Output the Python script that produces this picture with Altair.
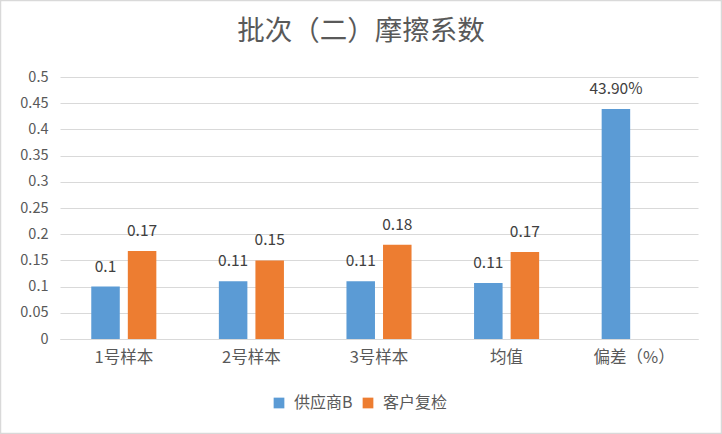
import altair as alt
import pandas as pd

title_text = "批次（二）摩擦系数"
categories = ["1号样本", "2号样本", "3号样本", "均值", "偏差（%）"]
series_names = ["供应商B", "客户复检"]
supplier_values = [0.10, 0.11, 0.11, 0.107, 0.439]
customer_values = [0.168, 0.15, 0.18, 0.166, None]
supplier_labels = ["0.1", "0.11", "0.11", "0.11", "43.90%"]
customer_labels = ["0.17", "0.15", "0.18", "0.17", ""]
y_ticks = [0, 0.05, 0.1, 0.15, 0.2, 0.25, 0.3, 0.35, 0.4, 0.45, 0.5]

rows = []
for c, v, l in zip(categories, supplier_values, supplier_labels):
    rows.append({"category": c, "series": series_names[0], "value": v, "label": l})
for c, v, l in zip(categories, customer_values, customer_labels):
    if v is not None:
        rows.append({"category": c, "series": series_names[1], "value": v, "label": l})
df = pd.DataFrame(rows)

FONT = "Noto Sans CJK SC"

x_enc = alt.X(
    "category:N",
    sort=categories,
    scale=alt.Scale(paddingInner=0.49, paddingOuter=0.245),
    axis=alt.Axis(
        title=None,
        labelAngle=0,
        labelFontSize=16.5,
        labelColor="#595959",
        labelFont=FONT,
        labelPadding=10,
        ticks=False,
        domainColor="#d9d9d9",
        domainWidth=1,
    ),
)
xoff = alt.XOffset("series:N", sort=series_names, scale=alt.Scale(paddingInner=0.22))
y_enc = alt.Y(
    "value:Q",
    scale=alt.Scale(domain=[0, 0.5]),
    axis=alt.Axis(
        title=None,
        values=y_ticks,
        tickCount=11,
        labelOverlap=False,
        format=".2~f",
        labelFontSize=14.5,
        labelColor="#595959",
        labelFont=FONT,
        labelPadding=12,
        ticks=False,
        domain=False,
        gridColor="#d9d9d9",
        gridWidth=1.2,
    ),
)
color_enc = alt.Color(
    "series:N",
    sort=series_names,
    scale=alt.Scale(domain=series_names, range=["#5B9BD5", "#ED7D31"]),
    legend=alt.Legend(
        title=None,
        orient="none",
        direction="horizontal",
        legendX=211,
        legendY=318,
        symbolType="square",
        symbolSize=115,
        symbolStrokeWidth=0,
        labelFontSize=16,
        labelColor="#595959",
        labelFont=FONT,
        columnPadding=7,
        labelOffset=7,
    ),
)

base = alt.Chart(df)
bars = base.mark_bar().encode(x=x_enc, xOffset=xoff, y=y_enc, color=color_enc)
texts = base.mark_text(
    baseline="bottom", dy=-12, fontSize=15.5, color="#404040", font=FONT
).encode(x=alt.X("category:N", sort=categories), xOffset=alt.XOffset("series:N", sort=series_names), y="value:Q", text="label:N")

single = pd.DataFrame({"t": [title_text]})
title_mark = alt.Chart(single).mark_text(
    fontSize=27.5, font=FONT, color="#595959", align="center", baseline="middle"
).encode(x=alt.value(301), y=alt.value(-45), text="t:N")

border = alt.Chart(single).mark_rect(
    fill=None, stroke="#d9d9d9", strokeWidth=1.5
).encode(
    x=alt.value(-59.5), x2=alt.value(661.5), y=alt.value(-76.5), y2=alt.value(356.5)
)

chart = (
    alt.layer(bars, texts, title_mark, border)
    .properties(
        width=638,
        height=262,
        padding={"left": 60, "top": 77, "right": 24, "bottom": 95},
        autosize=alt.AutoSizeParams(type="none"),
        background="white",
    )
    .configure_view(stroke=None)
)

chart.save("out.html", embed_options={"renderer": "svg", "actions": False})
